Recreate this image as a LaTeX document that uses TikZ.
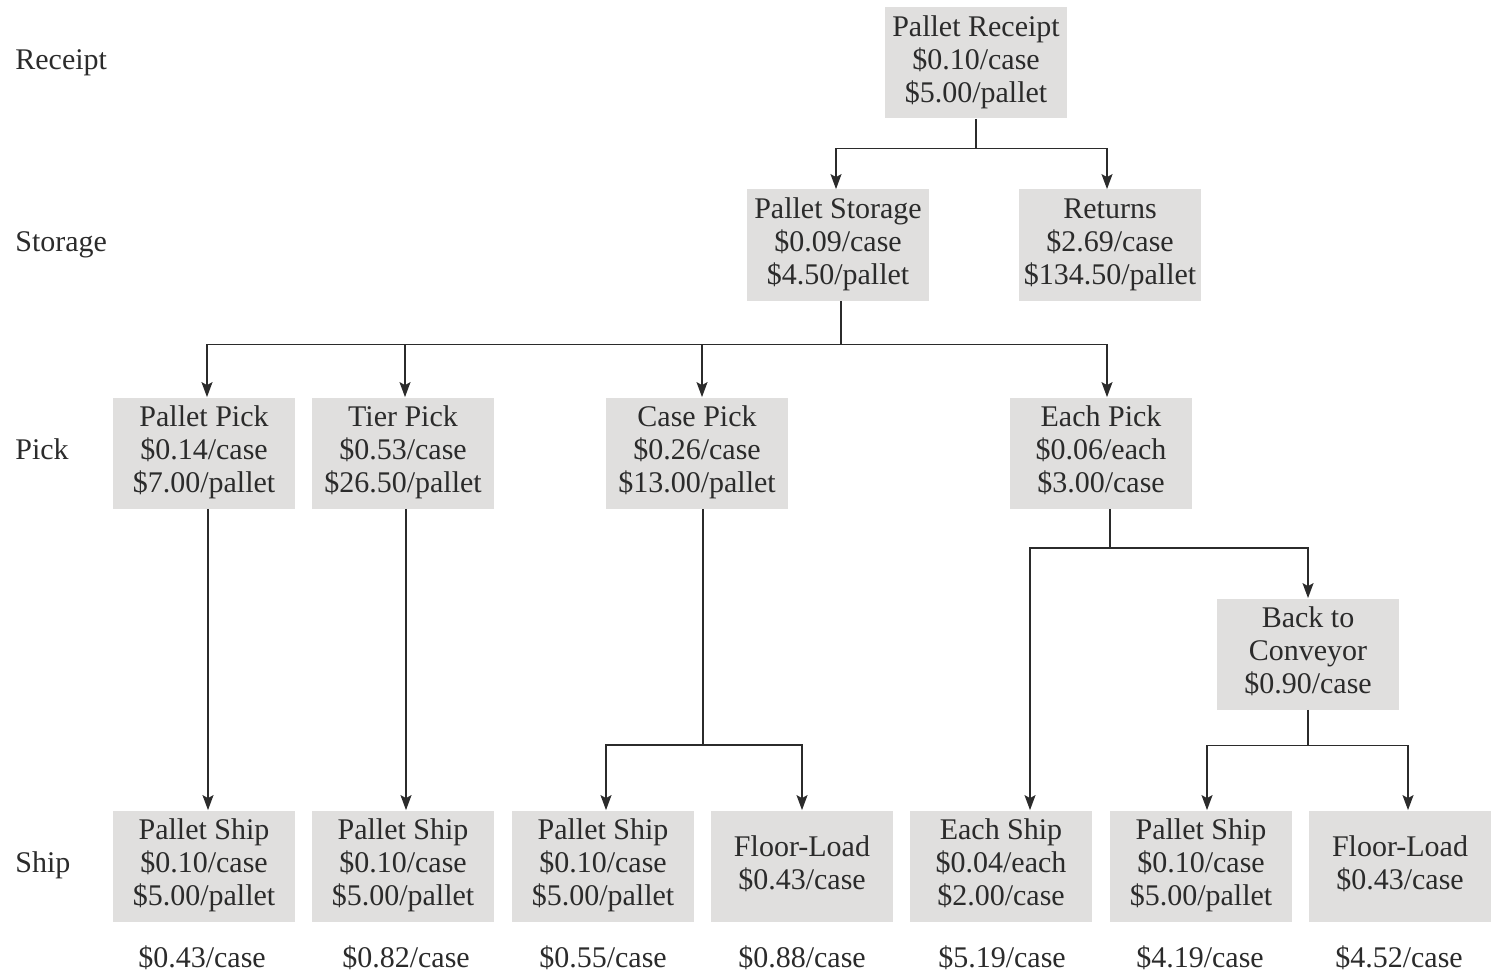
\documentclass[tikz,border=0pt]{standalone}
\usepackage{fontspec}
\setmainfont{Liberation Serif}
\usetikzlibrary{arrows.meta,calc}
\definecolor{boxgrey}{HTML}{E0DFDE}
\definecolor{ink}{HTML}{2B2B2B}
% stacked cost lines, strut-padded so every box centres alike
\newcommand{\threelines}[3]{\strut#1\\#2\\#3\strut}
\newcommand{\twolines}[2]{\strut#1\\#2\strut}
\begin{document}
\begin{tikzpicture}[x=0.5pt,y=-0.5pt,
  cost/.style={fill=boxgrey, minimum width=91pt, minimum height=55.5pt,
    inner sep=0pt, align=center, font=\fontsize{15}{16.5}\selectfont, text=ink},
  level/.style={anchor=west, inner sep=0pt, font=\fontsize{15}{16.5}\selectfont, text=ink},
  total/.style={inner sep=0pt, font=\fontsize{15}{16.5}\selectfont, text=ink},
  link/.style={draw=ink, line width=0.75pt},
  arr/.style={link, -{Stealth[length=7.5pt,width=5.5pt,inset=1.5pt]}}]
\useasboundingbox (0,0) rectangle (1491,973);

% stage labels
\node[level] (lrec) at (15,63)  {\strut Receipt};
\node[level] (lsto) at (15,245) {\strut Storage};
\node[level] (lpick) at (15,453) {\strut Pick};
\node[level] (lship) at (15,866) {\strut Ship};

% receipt and storage
\node[cost] (rec) at (976,63)  {\threelines{Pallet Receipt}{\$0.10/case}{\$5.00/pallet}};
\node[cost] (pst) at (838,245) {\threelines{Pallet Storage}{\$0.09/case}{\$4.50/pallet}};
\node[cost] (ret) at (1110,245) {\threelines{Returns}{\$2.69/case}{\$134.50/pallet}};

% pick
\node[cost] (pp) at (204,453)  {\threelines{Pallet Pick}{\$0.14/case}{\$7.00/pallet}};
\node[cost] (tp) at (403,453)  {\threelines{Tier Pick}{\$0.53/case}{\$26.50/pallet}};
\node[cost] (cp) at (697,453)  {\threelines{Case Pick}{\$0.26/case}{\$13.00/pallet}};
\node[cost] (ep) at (1101,453) {\threelines{Each Pick}{\$0.06/each}{\$3.00/case}};
\node[cost] (btc) at (1308,654) {\threelines{Back to}{Conveyor}{\$0.90/case}};

% ship
\node[cost] (s1) at (204,866)  {\threelines{Pallet Ship}{\$0.10/case}{\$5.00/pallet}};
\node[cost] (s2) at (403,866)  {\threelines{Pallet Ship}{\$0.10/case}{\$5.00/pallet}};
\node[cost] (s3) at (603,866)  {\threelines{Pallet Ship}{\$0.10/case}{\$5.00/pallet}};
\node[cost] (f1) at (802,866)  {\twolines{Floor-Load}{\$0.43/case}};
\node[cost] (es) at (1001,866) {\threelines{Each Ship}{\$0.04/each}{\$2.00/case}};
\node[cost] (s4) at (1201,866) {\threelines{Pallet Ship}{\$0.10/case}{\$5.00/pallet}};
\node[cost] (f2) at (1400,866) {\twolines{Floor-Load}{\$0.43/case}};

% totals
\node[total] (t1) at (202,961)  {\strut\$0.43/case};
\node[total] (t2) at (406,961)  {\strut\$0.82/case};
\node[total] (t3) at (603,961)  {\strut\$0.55/case};
\node[total] (t4) at (802,961)  {\strut\$0.88/case};
\node[total] (t5) at (1002,961) {\strut\$5.19/case};
\node[total] (t6) at (1200,961) {\strut\$4.19/case};
\node[total] (t7) at (1399,961) {\strut\$4.52/case};

% receipt -> storage / returns
\draw[link] (rec.south) -- ++(0,29.5) coordinate (kr);
\draw[arr] (kr) -| ($(pst.north)+(-2,0)$);
\draw[arr] (kr) -| ($(ret.north)+(-3,0)$);

% storage -> picks
\draw[link] ($(pst.south)+(3,0)$) -- ++(0,43.5) coordinate (ks);
\draw[arr] (ks) -| ($(pp.north)+(3,0)$);
\draw[arr] (ks) -| ($(tp.north)+(2,0)$);
\draw[arr] (ks) -| ($(cp.north)+(5,0)$);
\draw[arr] (ks) -| ($(ep.north)+(6,0)$);

% pallet and tier picks -> ship
\draw[arr] ($(pp.south)+(4,0)$) -- ($(s1.north)+(4,0)$);
\draw[arr] ($(tp.south)+(3,0)$) -- ($(s2.north)+(3,0)$);

% case pick -> ship
\draw[link] ($(cp.south)+(6,0)$) -- ++(0,236) coordinate (kc);
\draw[arr] (kc) -| ($(s3.north)+(3,0)$);
\draw[arr] (kc) -| (f1.north);

% each pick -> each ship / back to conveyor
\draw[link] ($(ep.south)+(9,0)$) -- ++(0,39) coordinate (ke);
\draw[arr] (ke) -| ($(es.north)+(29,0)$);
\draw[arr] (ke) -| (btc.north);

% back to conveyor -> ship
\draw[link] (btc.south) -- ++(0,35.5) coordinate (kb);
\draw[arr] (kb) -| ($(s4.north)+(6,0)$);
\draw[arr] (kb) -| ($(f2.north)+(8,0)$);
\end{tikzpicture}
\end{document}
